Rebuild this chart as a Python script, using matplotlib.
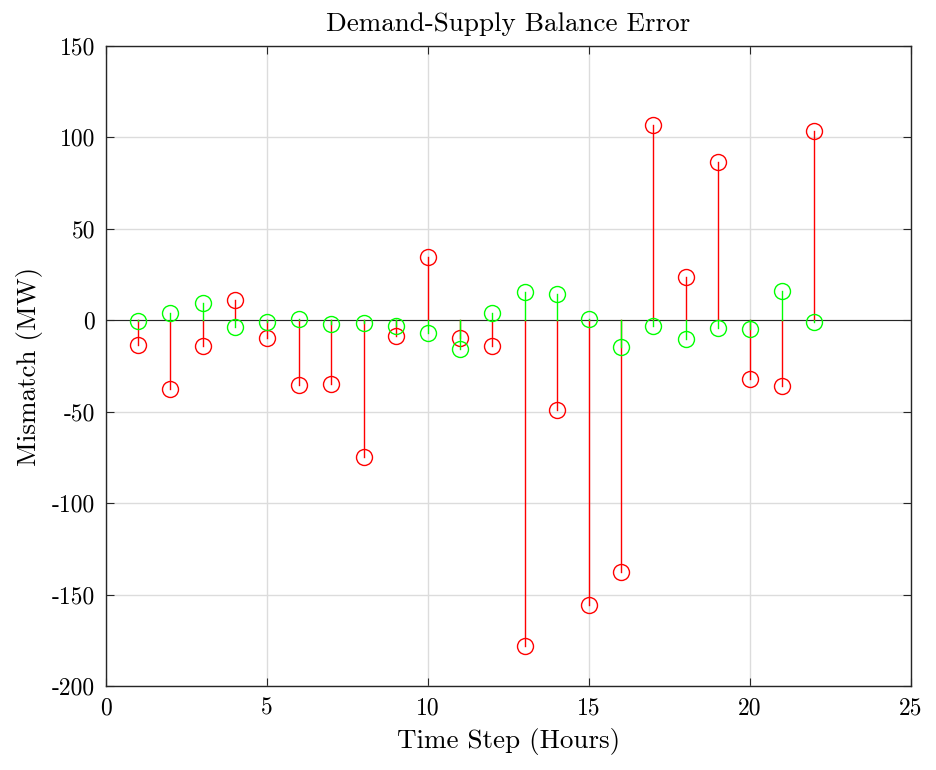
import matplotlib
matplotlib.use("Agg")
import matplotlib.pyplot as plt
from matplotlib.ticker import FuncFormatter

hours = list(range(1, 23))
red_vals = [-13.5, -37.7, -13.9, 10.9, -9.9, -35.2, -34.7, -74.7, -8.6, 34.4, -9.9,
            -14.0, -178.1, -49.0, -155.8, -137.5, 106.9, 23.7, 86.5, -32.1, -35.9, 103.7]
green_vals = [-0.3, 3.8, 9.6, -3.8, -0.9, 0.9, -1.8, -1.3, -3.1, -6.8, -15.7,
              4.0, 15.5, 14.6, 0.9, -14.7, -2.9, -10.0, -4.4, -4.8, 15.8, -0.8]
xticks = [0, 5, 10, 15, 20, 25]
yticks = [-200, -150, -100, -50, 0, 50, 100, 150]

plt.rcParams['font.family'] = ['cmr10', 'DejaVu Serif']
plt.rcParams['axes.unicode_minus'] = False
plt.rcParams['axes.formatter.use_mathtext'] = True

fig = plt.figure(figsize=(9.36, 7.70), dpi=100)
ax = fig.add_axes([106/936, 1-686/770, (911-106)/936, (686-46)/770])

ax.grid(True, color='#dcdcdc', linewidth=1.0, zorder=0)
ax.set_axisbelow(True)
ax.axhline(0, color='#262626', linewidth=0.8, zorder=1)

for x, v in zip(hours, red_vals):
    ax.plot([x, x], [0, v], color='red', linewidth=1.0, zorder=2)
ax.plot(hours, red_vals, linestyle='none', marker='o', markersize=11.5,
        markerfacecolor='none', markeredgecolor='red', markeredgewidth=1.0, zorder=3)
for x, v in zip(hours, green_vals):
    ax.plot([x, x], [0, v], color='#00ff00', linewidth=1.0, zorder=4)
ax.plot(hours, green_vals, linestyle='none', marker='o', markersize=11.5,
        markerfacecolor='none', markeredgecolor='#00ff00', markeredgewidth=1.0, zorder=5)

ax.set_xlim(0, 25)
ax.set_ylim(-200, 150)
ax.set_xticks(xticks)
ax.set_yticks(yticks)
ax.xaxis.set_major_formatter(FuncFormatter(lambda v, p: '%d' % v))
ax.yaxis.set_major_formatter(FuncFormatter(lambda v, p: '%d' % v))
ax.tick_params(direction='in', top=True, right=True, length=6, width=0.8,
               labelsize=17, colors='#262626', labelcolor='black', pad=8)
for s in ax.spines.values():
    s.set_linewidth(1.0)
    s.set_color('#262626')

ax.set_title('Demand-Supply Balance Error', fontsize=19.5, pad=11)
ax.set_xlabel('Time Step (Hours)', fontsize=19.5, labelpad=6)
ax.set_ylabel('Mismatch (MW)', fontsize=19.5, labelpad=6)

fig.savefig('out.png', dpi=100)
